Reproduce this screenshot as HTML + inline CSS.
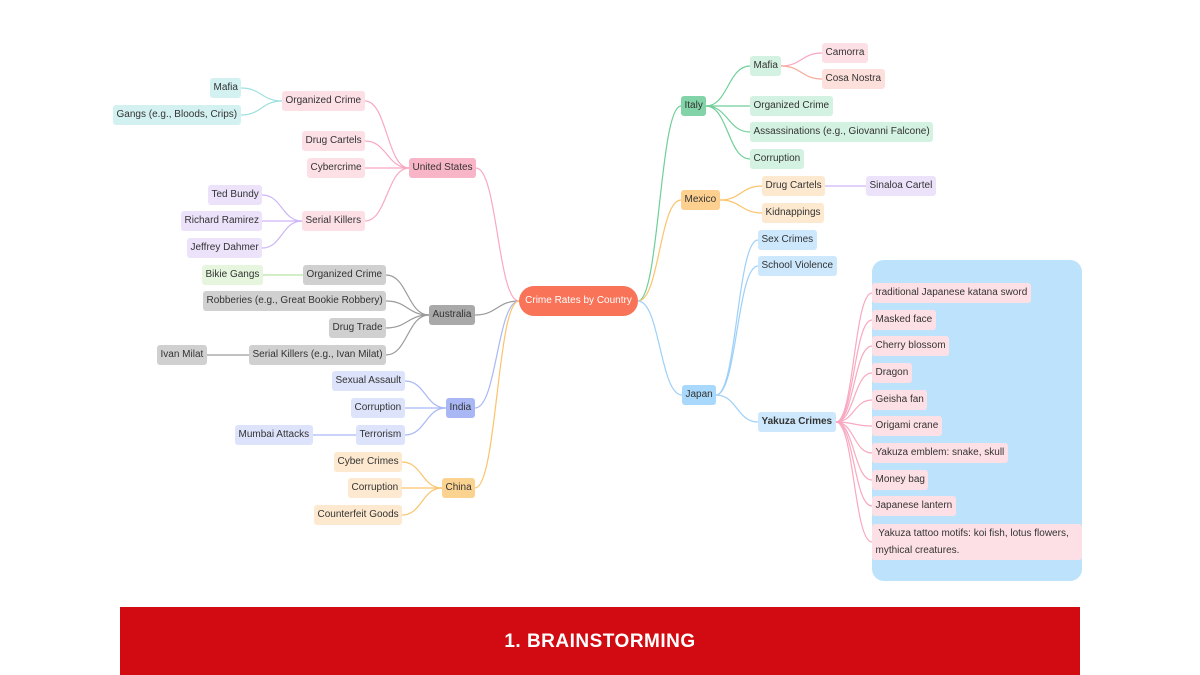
<!DOCTYPE html>
<html><head><meta charset="utf-8">
<style>
html,body{margin:0;padding:0;background:#fff;width:1200px;height:675px;overflow:hidden;position:relative;font-family:"Liberation Sans",sans-serif}
.n{position:absolute;height:20px;line-height:20px;font-size:10px;color:#333;padding:0 3.5px;border-radius:3px;white-space:nowrap;box-sizing:border-box}
#edges{position:absolute;left:0;top:0}
</style></head><body>
<svg id="edges" width="1200" height="675"></svg>
<div style="position:absolute;left:872px;top:260px;width:210px;height:321px;background:#bde2fc;border-radius:12px"></div>
<div id="nodes"></div>
<div style="position:absolute;left:120px;top:607px;width:960px;height:68px;background:#d20a11;color:#fff;font-weight:bold;font-size:19px;text-align:center;line-height:70px;letter-spacing:0.5px">1. BRAINSTORMING</div>
<script>
// [id, text, side('L' right-anchored / 'R' left-anchored), x, y, bg, parent, edgeColor]
const nodes = [
 ['root','Crime Rates by Country','C',519,301,'#f97358',null,null],
 ['us','United States','L',476,168,'#f9b5c8','root','#f9a8c0'],
 ['usoc','Organized Crime','L',365,101,'#fde0e6','us','#f9a8c0'],
 ['usmafia','Mafia','L',241,88,'#d3f1f1','usoc','#9ee0e0'],
 ['usgangs','Gangs (e.g., Bloods, Crips)','L',241,115,'#d3f1f1','usoc','#9ee0e0'],
 ['usdc','Drug Cartels','L',365,141,'#fde0e6','us','#f9a8c0'],
 ['uscc','Cybercrime','L',365,168,'#fde0e6','us','#f9a8c0'],
 ['ussk','Serial Killers','L',365,221,'#fde0e6','us','#f9a8c0'],
 ['ted','Ted Bundy','L',262,195,'#ece3fb','ussk','#cdb5f7'],
 ['rich','Richard Ramirez','L',262,221,'#ece3fb','ussk','#cdb5f7'],
 ['jeff','Jeffrey Dahmer','L',262,248,'#ece3fb','ussk','#cdb5f7'],
 ['au','Australia','L',475,315,'#a9a9a9','root','#9a9a9a'],
 ['auoc','Organized Crime','L',386,275,'#d0d0d0','au','#9a9a9a'],
 ['bikie','Bikie Gangs','L',263,275,'#e6f5dd','auoc','#b8e3a5'],
 ['aurob','Robberies (e.g., Great Bookie Robbery)','L',386,301,'#d0d0d0','au','#9a9a9a'],
 ['audt','Drug Trade','L',386,328,'#d0d0d0','au','#9a9a9a'],
 ['ausk','Serial Killers (e.g., Ivan Milat)','L',386,355,'#d0d0d0','au','#9a9a9a'],
 ['ivan','Ivan Milat','L',207,355,'#d0d0d0','ausk','#9a9a9a'],
 ['in','India','L',475,408,'#a9b8f5','root','#a9b8f5'],
 ['insa','Sexual Assault','L',405,381,'#dde3fb','in','#a9b8f5'],
 ['inco','Corruption','L',405,408,'#dde3fb','in','#a9b8f5'],
 ['inte','Terrorism','L',405,435,'#dde3fb','in','#a9b8f5'],
 ['mumbai','Mumbai Attacks','L',313,435,'#dde3fb','inte','#a9b8f5'],
 ['cn','China','L',475,488,'#fbd391','root','#fbc36b'],
 ['cncc','Cyber Crimes','L',402,462,'#fde9cf','cn','#fbc36b'],
 ['cnco','Corruption','L',402,488,'#fde9cf','cn','#fbc36b'],
 ['cncg','Counterfeit Goods','L',402,515,'#fde9cf','cn','#fbc36b'],
 ['it','Italy','R',681,106,'#82d3a8','root','#6fcf98'],
 ['itmafia','Mafia','R',750,66,'#d4f2e1','it','#6fcf98'],
 ['camorra','Camorra','R',822,53,'#fde0e6','itmafia','#f9a8c0'],
 ['cosa','Cosa Nostra','R',822,79,'#fde0dc','itmafia','#f7a99a'],
 ['itoc','Organized Crime','R',750,106,'#d4f2e1','it','#6fcf98'],
 ['itas','Assassinations (e.g., Giovanni Falcone)','R',750,132,'#d4f2e1','it','#6fcf98'],
 ['itco','Corruption','R',750,159,'#d4f2e1','it','#6fcf98'],
 ['mx','Mexico','R',681,200,'#fdd08f','root','#fbc36b'],
 ['mxdc','Drug Cartels','R',762,186,'#fde9cf','mx','#fbc36b'],
 ['sinaloa','Sinaloa Cartel','R',866,186,'#ece3fb','mxdc','#cdb5f7'],
 ['mxki','Kidnappings','R',762,213,'#fde9cf','mx','#fbc36b'],
 ['jp','Japan','R',682,395,'#a8d8fb','root','#9dd0f8'],
 ['jpsc','Sex Crimes','R',758,240,'#cde8fc','jp','#9dd0f8'],
 ['jpsv','School Violence','R',758,266,'#cde8fc','jp','#9dd0f8'],
 ['jpyk','Yakuza Crimes','R',758,422,'#cde8fc','jp','#9dd0f8'],
 ['y1',' traditional Japanese katana sword','R',872,293,'#fde0e6','jpyk','#f9a8c0'],
 ['y2','Masked face','R',872,320,'#fde0e6','jpyk','#f9a8c0'],
 ['y3','Cherry blossom','R',872,346,'#fde0e6','jpyk','#f9a8c0'],
 ['y4',' Dragon','R',872,373,'#fde0e6','jpyk','#f9a8c0'],
 ['y5','Geisha fan','R',872,400,'#fde0e6','jpyk','#f9a8c0'],
 ['y6','Origami crane','R',872,426,'#fde0e6','jpyk','#f9a8c0'],
 ['y7','Yakuza emblem: snake, skull','R',872,453,'#fde0e6','jpyk','#f9a8c0'],
 ['y8','Money bag','R',872,480,'#fde0e6','jpyk','#f9a8c0'],
 ['y9','Japanese lantern','R',872,506,'#fde0e6','jpyk','#f9a8c0'],
 ['y10','MULTI','R',872,542,'#fde0e6','jpyk','#f9a8c0']
];
const cont=document.getElementById('nodes');
const map={};
nodes.forEach(n=>{
  const [id,text,side,x,y,bg]=n;
  const d=document.createElement('div');
  d.className='n';
  
  
  d.style.background=bg;
  if(text==='MULTI'){
    d.innerHTML='&nbsp;Yakuza tattoo motifs: koi fish, lotus flowers,<br>mythical creatures.';
    d.style.height='36px';d.style.lineHeight='17px';d.style.width='210px';d.style.whiteSpace='nowrap';d.style.paddingTop='1px';
  } else d.textContent=text;
  if(id==='jpyk') d.style.fontWeight='bold';
  if(id==='root'){d.style.color='#fff';d.style.height='30px';d.style.lineHeight='30px';d.style.borderRadius='15px';d.style.width='119px';d.style.textAlign='center';d.style.padding='0';}
  cont.appendChild(d);
  const w=d.offsetWidth,h=d.offsetHeight;
  let left = side==='L' ? x-w : x;
  d.style.left=left+'px';d.style.top=(y-h/2)+'px';
  map[id]={l:left,r:left+w,y:y};
});
const svg=document.getElementById('edges');
nodes.forEach(n=>{
  const [id,,side,,,,parent,col]=n;
  if(!parent) return;
  const p=map[parent],c=map[id];
  let x1,x2;
  if(side==='L'){x1=p.l;x2=c.r;} else {x1=p.r;x2=c.l;}
  const y1=p.y,y2=c.y,mx=(x1+x2)/2;
  const path=document.createElementNS('http://www.w3.org/2000/svg','path');
  
  
  path.setAttribute('d',`M${x1},${y1} C${mx},${y1} ${mx},${y2} ${x2},${y2}`);
  path.setAttribute('fill','none');path.setAttribute('stroke',col);path.setAttribute('stroke-width','1.2');
  svg.appendChild(path);
});
</script>
</body></html>
